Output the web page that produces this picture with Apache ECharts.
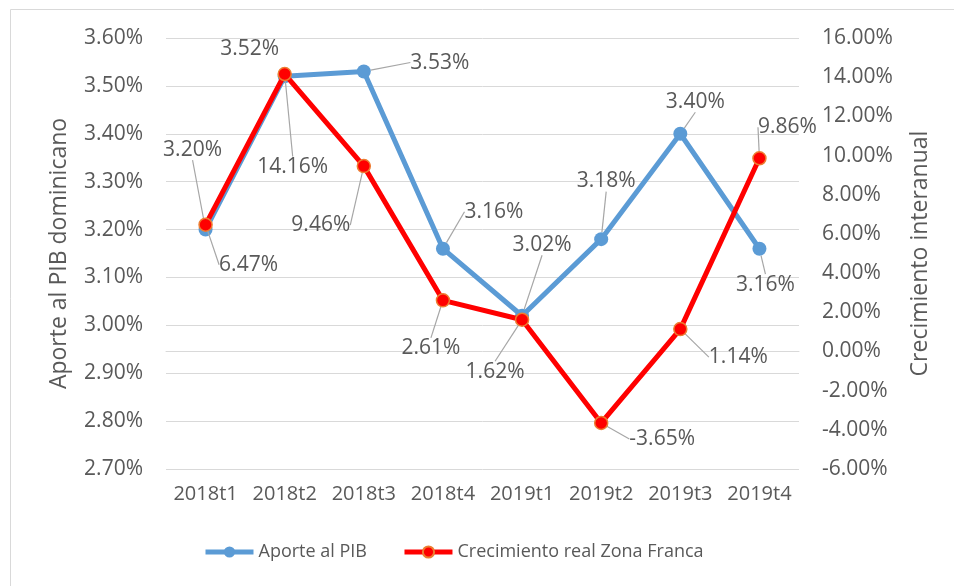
<!DOCTYPE html>
<html>
<head>
<meta charset="utf-8">
<script src="https://cdn.jsdelivr.net/npm/echarts@6/dist/echarts.min.js"></script>
<style>
  html, body { margin: 0; padding: 0; background: #fff; }
  #chart { width: 954px; height: 586px; }
</style>
</head>
<body>
<div id="chart"></div>
<script>
const categories = ["2018t1", "2018t2", "2018t3", "2018t4", "2019t1", "2019t2", "2019t3", "2019t4"];
const aportePib = [3.20, 3.52, 3.53, 3.16, 3.02, 3.18, 3.40, 3.16];
const crecimiento = [6.47, 14.16, 9.46, 2.61, 1.62, -3.65, 1.14, 9.86];

// label offsets from the marker (px), like the Excel callouts
const aporteOffsets = [[-13, -80], [-35, -27], [76, -9], [51, -37], [20, -71], [5, -58], [15, -32], [6, 36]];
const crecOffsets = [[43, 40], [8, 93], [-43, 59], [-12, 48], [-27, 52], [61, 16], [58, 28], [28, -31]];

const font = "Open Sans";
const textColor = "#595959";

function layoutFor(offsets) {
  return function (params) {
    const o = offsets[params.dataIndex];
    return {
      x: params.rect.x + params.rect.width / 2 + o[0],
      y: params.rect.y + params.rect.height / 2 + o[1],
      align: "center",
      verticalAlign: "middle",
    };
  };
}

const pct = (v) => v.toFixed(2) + "%";

const chart = echarts.init(document.getElementById("chart"));

chart.setOption({
  animation: false,
  textStyle: { fontFamily: font },
  graphic: [
    {
      type: "rect",
      shape: { x: 10.5, y: 9.5, width: 1000, height: 1000 },
      style: { fill: "none", stroke: "#D9D9D9", lineWidth: 1 },
      silent: true,
    },
  ],
  grid: { left: 166, right: 155, top: 38, bottom: 117 },
  legend: {
    bottom: 20,
    left: 198,
    itemWidth: 48,
    itemHeight: 14,
    itemGap: 35,
    lineStyle: { width: 5 },
    textStyle: { color: textColor, fontSize: 18, fontFamily: font },
    data: ["Aporte al PIB", "Crecimiento real Zona Franca"],
  },
  xAxis: {
    type: "category",
    data: categories,
    boundaryGap: true,
    axisTick: { show: false },
    axisLine: { lineStyle: { color: "#D9D9D9", width: 1 } },
    axisLabel: { color: textColor, fontSize: 20, margin: 15, interval: 0 },
  },
  yAxis: [
    {
      type: "value",
      min: 2.7,
      max: 3.6,
      interval: 0.1,
      name: "Aporte al PIB dominicano",
      nameLocation: "middle",
      nameGap: 95,
      nameRotate: 90,
      nameTextStyle: { color: textColor, fontSize: 23 },
      axisLine: { show: false },
      axisTick: { show: false },
      axisLabel: { color: textColor, fontSize: 21, margin: 23, formatter: pct },
      splitLine: { lineStyle: { color: "#D9D9D9", width: 1 } },
    },
    {
      type: "value",
      min: -6,
      max: 16,
      interval: 2,
      name: "Crecimiento interanual",
      nameLocation: "middle",
      nameGap: 110,
      nameRotate: 90,
      nameTextStyle: { color: textColor, fontSize: 23 },
      axisLine: { show: false },
      axisTick: { show: false },
      axisLabel: { color: textColor, fontSize: 21, margin: 23, formatter: pct },
      splitLine: { show: false },
    },
  ],
  series: [
    {
      name: "Aporte al PIB",
      type: "line",
      yAxisIndex: 0,
      // the 3.52% callout sits right by its marker, so no leader line there
      data: aportePib.map((v, i) => (i === 1 ? { value: v, labelLine: { show: false } } : v)),
      symbol: "circle",
      symbolSize: 14,
      lineStyle: { color: "#5B9BD5", width: 5 },
      itemStyle: { color: "#5B9BD5" },
      label: {
        show: true,
        color: textColor,
        fontSize: 21,
        formatter: (p) => pct(p.value),
      },
      labelLine: { show: true, lineStyle: { color: "#A6A6A6", width: 1.2 } },
      labelLayout: layoutFor(aporteOffsets),
      z: 2,
    },
    {
      name: "Crecimiento real Zona Franca",
      type: "line",
      yAxisIndex: 1,
      data: crecimiento,
      symbol: "circle",
      symbolSize: 13,
      lineStyle: { color: "#FF0000", width: 5 },
      itemStyle: { color: "#FF0000", borderColor: "#ED7D31", borderWidth: 1.5 },
      label: {
        show: true,
        color: textColor,
        fontSize: 21,
        formatter: (p) => pct(p.value),
      },
      labelLine: { show: true, lineStyle: { color: "#A6A6A6", width: 1.2 } },
      labelLayout: layoutFor(crecOffsets),
      z: 3,
    },
  ],
});
</script>
</body>
</html>
